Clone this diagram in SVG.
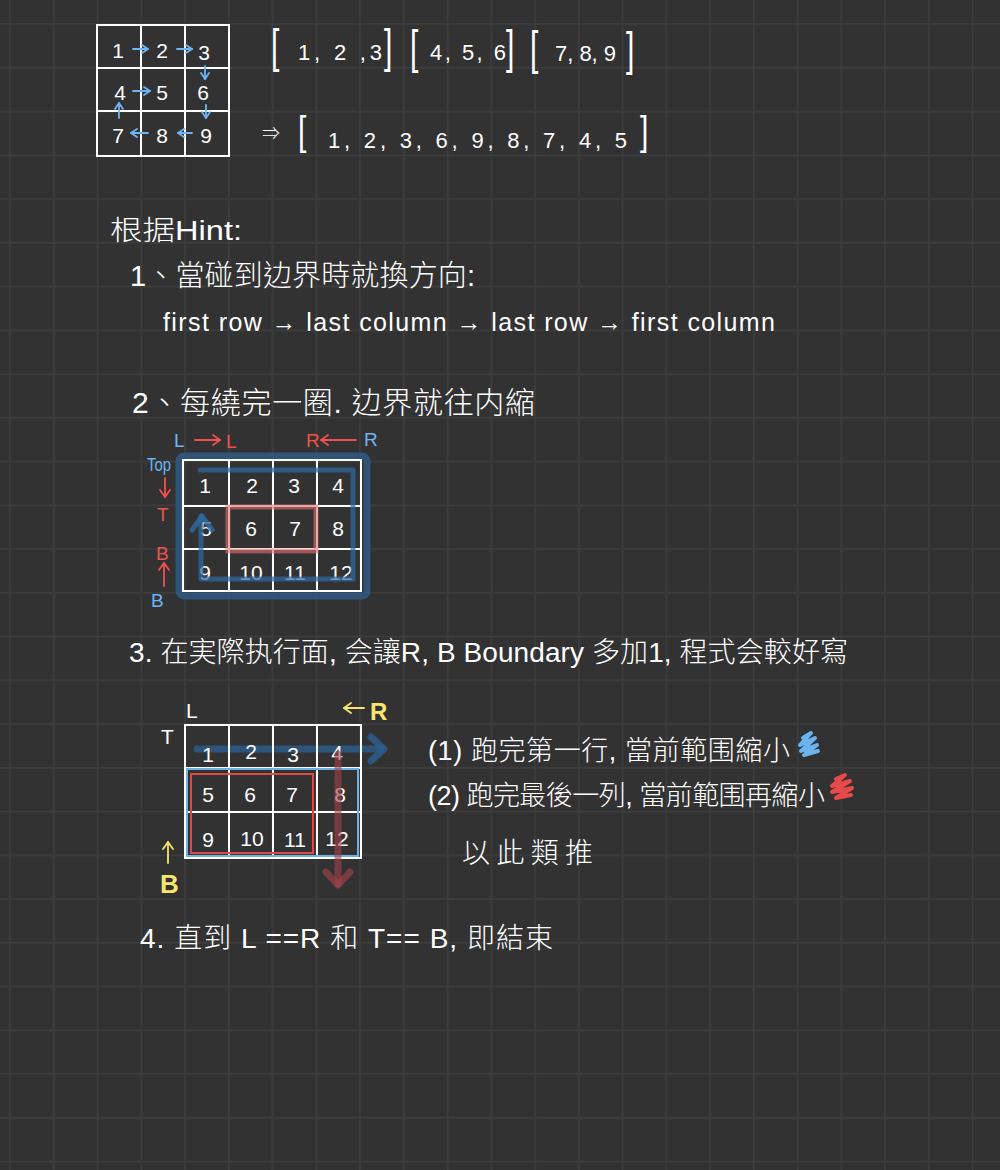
<svg xmlns="http://www.w3.org/2000/svg" width="1000" height="1170" viewBox="0 0 1000 1170">
<defs>
<pattern id="bgGrid" patternUnits="userSpaceOnUse" x="9.2" y="23.2" width="43.75" height="43.75">
<rect width="43.75" height="43.75" fill="#323232"/>
<rect x="0" y="0" width="1.6" height="43.75" fill="#3d3d3d"/>
<rect x="0" y="0" width="43.75" height="1.6" fill="#3d3d3d"/>
</pattern>
<marker id="mb" markerUnits="userSpaceOnUse" markerWidth="8" markerHeight="10" viewBox="0 0 8 10" refX="7" refY="5" orient="auto">
<path d="M1,1 L7,5 L1,9" fill="none" stroke="#6fb4f4" stroke-width="1.8" stroke-linecap="round" stroke-linejoin="round"/>
</marker>
<marker id="mr" markerUnits="userSpaceOnUse" markerWidth="10" markerHeight="12" viewBox="0 0 10 12" refX="8" refY="6" orient="auto">
<path d="M1,1 L8,6 L1,11" fill="none" stroke="#f05050" stroke-width="1.8" stroke-linecap="round" stroke-linejoin="round"/>
</marker>
<marker id="my" markerUnits="userSpaceOnUse" markerWidth="10" markerHeight="12" viewBox="0 0 10 12" refX="8" refY="6" orient="auto">
<path d="M1,1 L8,6 L1,11" fill="none" stroke="#f7e66b" stroke-width="1.8" stroke-linecap="round" stroke-linejoin="round"/>
</marker>
</defs>
<style>
.t{font-family:'Liberation Sans','Noto Sans CJK TC','Noto Sans CJK SC',sans-serif;fill:#ffffff;font-weight:300}
.num{font-family:'Liberation Sans',sans-serif;fill:#ffffff;font-size:21px;text-anchor:middle}
.br{font-family:'Liberation Sans',sans-serif;fill:#ffffff;font-size:30px}
.grid{fill:none;stroke:#ffffff;stroke-width:2}
.ba{stroke:#6fb4f4;stroke-width:1.8;fill:none;stroke-linecap:round;marker-end:url(#mb)}
.ra{stroke:#f05050;stroke-width:1.8;fill:none;stroke-linecap:round;marker-end:url(#mr)}
.ya{stroke:#f7e66b;stroke-width:1.8;fill:none;stroke-linecap:round;marker-end:url(#my)}
.lb{font-family:'Liberation Sans',sans-serif;fill:#6fb4f4;font-size:19px}
.lr{font-family:'Liberation Sans',sans-serif;fill:#f05050;font-size:19px}
.ly{font-family:'Liberation Sans',sans-serif;fill:#f7e66b;font-weight:bold}
</style>
<rect width="1000" height="1170" fill="url(#bgGrid)"/>

<!-- Example 3x3 matrix -->
<g id="matrix3">
<path class="grid" d="M97,25 H229 V156 H97 Z M141,25 V156 M185,25 V156 M97,68 H229 M97,111 H229"/>
<text class="num" x="118" y="58">1</text>
<text class="num" x="162" y="58">2</text>
<text class="num" x="204" y="60">3</text>
<text class="num" x="120" y="100">4</text>
<text class="num" x="162" y="100">5</text>
<text class="num" x="203" y="100">6</text>
<text class="num" x="118" y="143">7</text>
<text class="num" x="162" y="143">8</text>
<text class="num" x="206" y="143">9</text>
</g>
<g id="connectors-matrix3">
<line class="ba" x1="133" y1="49" x2="148" y2="49"/>
<line class="ba" x1="177" y1="49" x2="192" y2="49"/>
<line class="ba" x1="205" y1="66" x2="205" y2="79"/>
<line class="ba" x1="133" y1="91" x2="150" y2="91"/>
<line class="ba" x1="206" y1="105" x2="206" y2="118"/>
<line class="ba" x1="192" y1="133" x2="178" y2="133"/>
<line class="ba" x1="148" y1="133" x2="131" y2="133"/>
<line class="ba" x1="119" y1="118" x2="119" y2="103"/>
</g>

<!-- Arrays -->
<g id="arrays">
<text class="br" transform="translate(271,62) scale(1,1.55)">[</text>
<text class="t" x="298" y="60" font-size="22" textLength="84" lengthAdjust="spacing">1, 2 ,3</text>
<text class="br" transform="translate(384,62) scale(1,1.55)">]</text>
<text class="br" transform="translate(410,63) scale(1,1.55)">[</text>
<text class="t" x="430" y="60" font-size="22" textLength="76" lengthAdjust="spacing">4, 5, 6</text>
<text class="br" transform="translate(506,63) scale(1,1.55)">]</text>
<text class="br" transform="translate(530,64) scale(1,1.55)">[</text>
<text class="t" x="555" y="61" font-size="22" textLength="61" lengthAdjust="spacing">7, 8, 9</text>
<text class="br" transform="translate(626,65) scale(1,1.55)">]</text>
<text class="t" x="262" y="140" font-size="18">⇒</text>
<text class="br" transform="translate(298,145) scale(1,1.35)">[</text>
<text class="t" x="328" y="148" font-size="22" textLength="299" lengthAdjust="spacing">1, 2, 3, 6, 9, 8, 7, 4, 5</text>
<text class="br" transform="translate(640,145) scale(1,1.35)">]</text>
</g>

<!-- Hint text -->
<g id="hint">
<text class="t" x="110" y="240" font-size="27" textLength="132" lengthAdjust="spacingAndGlyphs">根据Hint:</text>
<text class="t" x="130" y="286" font-size="29" textLength="345" lengthAdjust="spacing">1、當碰到边界時就換方向:</text>
<text class="t" x="163" y="331" font-size="25" textLength="612" lengthAdjust="spacing">first row → last column → last row → first column</text>
<text class="t" x="132" y="413" font-size="30" textLength="403" lengthAdjust="spacing">2、每繞完一圈. 边界就往内縮</text>
</g>

<!-- Section 2 matrix -->
<g id="matrix4x3">
<rect x="179" y="456" width="188" height="140" rx="5" fill="none" stroke="#2f5a84" stroke-opacity="0.85" stroke-width="7"/>
<path class="grid" d="M183,460 H361 V591 H183 Z M229,460 V591 M273,460 V591 M317,460 V591 M183,506 H361 M183,549 H361"/>
<rect x="228" y="507" width="88" height="44" fill="none" stroke="#e07070" stroke-opacity="0.6" stroke-width="5"/>
<text class="num" x="205" y="493">1</text>
<text class="num" x="252" y="493">2</text>
<text class="num" x="294" y="493">3</text>
<text class="num" x="338" y="493">4</text>
<text class="num" x="206" y="536">5</text>
<text class="num" x="251" y="536">6</text>
<text class="num" x="295" y="536">7</text>
<text class="num" x="338" y="536">8</text>
<text class="num" x="205" y="580">9</text>
<text class="num" x="251" y="580" font-size="18">10</text>
<text class="num" x="295" y="580" font-size="18">11</text>
<text class="num" x="341" y="580" font-size="18">12</text>
<path d="M200,470 H353 V579 H201 V516" fill="none" stroke="#2f6aa3" stroke-opacity="0.7" stroke-width="5" stroke-linejoin="round" stroke-linecap="round"/>
<path d="M192,530 L202,516 L212,530" fill="none" stroke="#2f6aa3" stroke-opacity="0.8" stroke-width="5" stroke-linejoin="round" stroke-linecap="round"/>
</g>
<g id="labels-section2">
<text class="lb" x="174" y="447">L</text>
<text class="lr" x="226" y="448">L</text>
<text class="lr" x="306" y="447">R</text>
<text class="lb" x="364" y="446">R</text>
<text class="lb" x="147" y="471" font-size="16" textLength="24" lengthAdjust="spacingAndGlyphs">Top</text>
<text class="lr" x="157" y="521">T</text>
<text class="lr" x="156" y="560">B</text>
<text class="lb" x="151" y="607" font-size="18">B</text>
</g>
<g id="connectors-section2">
<line class="ra" x1="195" y1="440" x2="220" y2="440"/>
<line class="ra" x1="356" y1="440" x2="321" y2="440"/>
<line class="ra" x1="165" y1="478" x2="165" y2="497"/>
<line class="ra" x1="164" y1="586" x2="164" y2="563"/>
</g>

<!-- Section 3 text -->
<g id="section3-text">
<text class="t" x="129" y="662" font-size="28" textLength="719" lengthAdjust="spacing">3. 在実際执行面, 会讓R, B Boundary 多加1, 程式会較好寫</text>
</g>

<!-- Section 3 matrix -->
<g id="matrix-section3">
<path d="M197,749 H381" fill="none" stroke="#2c5d8c" stroke-opacity="0.8" stroke-width="7" stroke-linecap="round"/>
<path d="M371,737 L384,749 L371,761" fill="none" stroke="#2c5d8c" stroke-opacity="0.85" stroke-width="7" stroke-linecap="round" stroke-linejoin="round"/>
<path class="grid" d="M185,725 H361 V858 H185 Z M229,725 V858 M273,725 V858 M317,725 V858 M185,768 H361 M185,812 H361" stroke-width="1.6"/>
<rect x="187" y="769" width="171" height="87" fill="none" stroke="#6cb0e8" stroke-width="2"/>
<rect x="191" y="774" width="122" height="79" fill="none" stroke="#e04848" stroke-width="2"/>
<text class="num" x="208" y="762">1</text>
<text class="num" x="251" y="759">2</text>
<text class="num" x="293" y="762">3</text>
<text class="num" x="337" y="760">4</text>
<text class="num" x="208" y="802">5</text>
<text class="num" x="250" y="802">6</text>
<text class="num" x="292" y="802">7</text>
<text class="num" x="340" y="802">8</text>
<text class="num" x="208" y="847">9</text>
<text class="num" x="252" y="846" font-size="19">10</text>
<text class="num" x="295" y="847" font-size="19">11</text>
<text class="num" x="337" y="846" font-size="19">12</text>
<path d="M338,754 V884" fill="none" stroke="#a2424a" stroke-opacity="0.6" stroke-width="7" stroke-linecap="round"/>
<path d="M326,872 L338,885 L350,872" fill="none" stroke="#a2424a" stroke-opacity="0.65" stroke-width="7" stroke-linecap="round" stroke-linejoin="round"/>
</g>
<g id="labels-section3">
<text class="t" x="186" y="718" font-size="21">L</text>
<text class="t" x="161" y="744" font-size="21">T</text>
<text class="ly" x="370" y="720" font-size="24">R</text>
<text class="ly" x="160" y="893" font-size="26">B</text>
</g>
<g id="connectors-section3">
<line class="ya" x1="364" y1="708" x2="344" y2="708"/>
<line class="ya" x1="168" y1="863" x2="168" y2="842"/>
</g>

<!-- Notes -->
<g id="notes-section3">
<text class="t" x="428" y="760" font-size="27" textLength="362" lengthAdjust="spacing">(1) 跑完第一行, 當前範围縮小</text>
<path d="M803,738 L811,733 L800,745 L815,738 L801,751 L817,745 L804,755 L818,751" fill="none" stroke="#6ab4f0" stroke-width="4" stroke-linecap="round" stroke-linejoin="round"/>
<text class="t" x="428" y="805" font-size="27" textLength="397" lengthAdjust="spacing">(2) 跑完最後一列, 當前範围再縮小</text>
<path d="M836,779 L845,775 L832,786 L850,781 L832,792 L852,788 L836,798 L851,795" fill="none" stroke="#e84a4a" stroke-width="4" stroke-linecap="round" stroke-linejoin="round"/>
<text class="t" x="462" y="863" font-size="28" textLength="131" lengthAdjust="spacing">以此類推</text>
</g>

<g id="section4">
<text class="t" x="140" y="948" font-size="28" textLength="413" lengthAdjust="spacing">4. 直到 L ==R 和 T== B, 即結束</text>
</g>
</svg>
